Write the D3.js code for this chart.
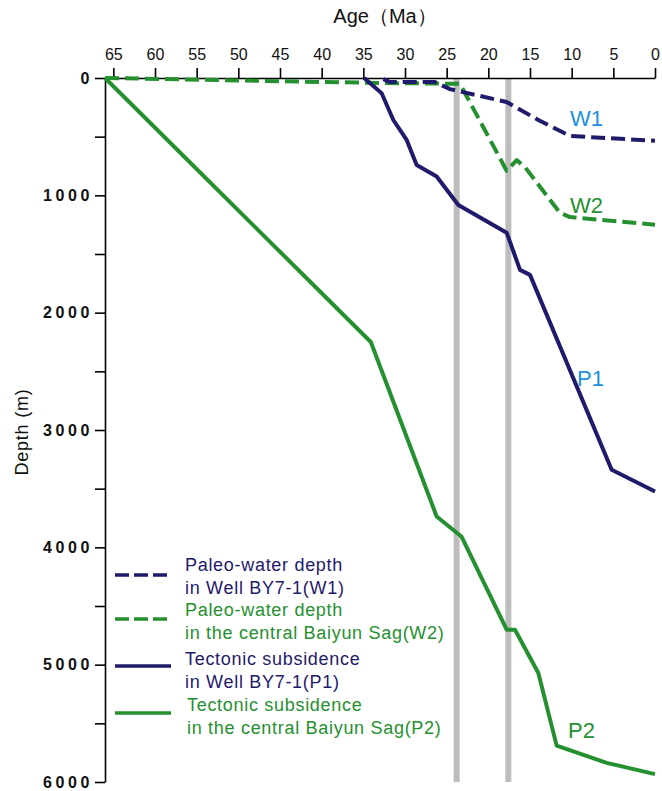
<!DOCTYPE html>
<html>
<head>
<meta charset="utf-8">
<script src="https://cdn.jsdelivr.net/npm/d3@7"></script>
<style>
  body { margin: 0; background: #fff; }
  svg text { font-family: "Liberation Sans", Arial, sans-serif; }
</style>
</head>
<body>
<div id="chart"></div>
<script>
// ages in Ma, depths in m
const w1Age = [32.6, 31.8, 26.4, 24.6, 17.8, 14.0, 10.2, 0];
const w1Depth = [10, 35, 35, 95, 205, 358, 494, 535];

const w2Age = [66, 35, 23.4, 17.8, 16.6, 15.6, 11.4, 10.2, 0];
const w2Depth = [0, 40, 50, 790, 700, 760, 1150, 1185, 1250];

const p1Age = [34.9, 32.8, 31.4, 29.8, 28.6, 26.2, 23.6, 17.8, 16.2, 15.0, 5.2, 0];
const p1Depth = [0, 130, 358, 528, 741, 840, 1082, 1318, 1635, 1678, 3339, 3524];

const p2Age = [66, 34.1, 26.2, 23.2, 17.8, 16.8, 14.0, 11.8, 5.8, 0];
const p2Depth = [0, 2250, 3737, 3910, 4702, 4702, 5071, 5690, 5837, 5933];

const boundaries = [23.8, 17.6];
const ageTicks = d3.range(0, 66, 5);
const depthTicks = d3.range(0, 6001, 500);

const navy = "#1f1a6c";
const green = "#25902f";
const blue = "#1e8fdf";

const width = 662;
const height = 791;

const svg = d3.select("#chart")
  .append("svg")
  .attr("width", width)
  .attr("height", height);

const x = d3.scaleLinear().domain([66, 0]).range([105, 655]);
const y = d3.scaleLinear().domain([0, 6000]).range([78, 782]);

// grey boundary bars
svg.selectAll(".bar")
  .data(boundaries)
  .join("line")
  .attr("class", "bar")
  .attr("x1", d => x(d))
  .attr("x2", d => x(d))
  .attr("y1", y(0))
  .attr("y2", y(6000))
  .attr("stroke", "#bdbdbd")
  .attr("stroke-width", 6);

// axes
const topAxis = svg.append("g")
  .attr("transform", `translate(0,${y(0)})`)
  .call(d3.axisTop(x).tickValues(ageTicks).tickSize(10).tickSizeOuter(0).tickPadding(8));
topAxis.select(".domain").attr("stroke-width", 1.6);
topAxis.selectAll(".tick line").attr("stroke-width", 1.6);
topAxis.selectAll(".tick text").attr("font-size", 16).attr("fill", "#111");

const leftAxis = svg.append("g")
  .attr("transform", `translate(${x(66)},0)`)
  .call(d3.axisLeft(y).tickValues(depthTicks).tickSize(10).tickSizeOuter(0).tickPadding(2)
    .tickFormat(d => d % 1000 === 0 ? d : ""));
leftAxis.select(".domain").attr("stroke-width", 1.6);
leftAxis.selectAll(".tick line").attr("stroke-width", 1.6);
leftAxis.selectAll(".tick text")
  .attr("font-size", 16)
  .attr("font-weight", "bold")
  .attr("letter-spacing", "3.6px")
  .attr("fill", "#111");

svg.append("text")
  .attr("x", 385)
  .attr("y", 23)
  .attr("text-anchor", "middle")
  .attr("font-size", 20)
  .attr("fill", "#111")
  .text("Age（Ma）");

svg.append("text")
  .attr("transform", "translate(28,432) rotate(-90)")
  .attr("text-anchor", "middle")
  .attr("font-size", 18)
  .attr("letter-spacing", "0.8px")
  .attr("fill", "#111")
  .text("Depth (m)");

// curves
const line = d3.line()
  .x(d => x(d[0]))
  .y(d => y(d[1]));

const series = [
  { age: w2Age, depth: w2Depth, color: green, dash: "14,6" },
  { age: p2Age, depth: p2Depth, color: green, dash: null },
  { age: w1Age, depth: w1Depth, color: navy, dash: "14,6" },
  { age: p1Age, depth: p1Depth, color: navy, dash: null }
];

series.forEach(s => {
  svg.append("path")
    .datum(d3.zip(s.age, s.depth))
    .attr("d", line)
    .attr("fill", "none")
    .attr("stroke", s.color)
    .attr("stroke-width", 4)
    .attr("stroke-linejoin", "round")
    .attr("stroke-dasharray", s.dash);
});

// curve labels
const curveLabels = [
  { text: "W1", x: 570, y: 126, color: blue },
  { text: "W2", x: 570, y: 213, color: green },
  { text: "P1", x: 577, y: 386, color: blue },
  { text: "P2", x: 568, y: 738, color: green }
];
svg.selectAll(".clabel")
  .data(curveLabels)
  .join("text")
  .attr("class", "clabel")
  .attr("x", d => d.x)
  .attr("y", d => d.y)
  .attr("font-size", 22)
  .attr("fill", d => d.color)
  .text(d => d.text);

// legend
const legendItems = [
  { lines: ["Paleo-water depth", "in Well BY7-1(W1)"], color: navy, dash: "14,5", ly: 575, ty: 571, tx: 185 },
  { lines: ["Paleo-water depth", "in the central Baiyun Sag(W2)"], color: green, dash: "14,5", ly: 619, ty: 616, tx: 185 },
  { lines: ["Tectonic subsidence", "in Well BY7-1(P1)"], color: navy, dash: null, ly: 666, ty: 665, tx: 185 },
  { lines: ["Tectonic subsidence", "in the central Baiyun Sag(P2)"], color: green, dash: null, ly: 713, ty: 711, tx: 187 }
];

const legend = svg.append("g").attr("class", "legend");
legendItems.forEach(d => {
  legend.append("line")
    .attr("x1", 115)
    .attr("x2", 171)
    .attr("y1", d.ly)
    .attr("y2", d.ly)
    .attr("stroke", d.color)
    .attr("stroke-width", 3.5)
    .attr("stroke-dasharray", d.dash);
  const t = legend.append("text")
    .attr("font-size", 18)
    .attr("letter-spacing", "0.7px")
    .attr("fill", d.color);
  d.lines.forEach((l, i) => {
    t.append("tspan")
      .attr("x", d.tx)
      .attr("y", d.ty + i * 22.5)
      .text(l);
  });
});
</script>
</body>
</html>
